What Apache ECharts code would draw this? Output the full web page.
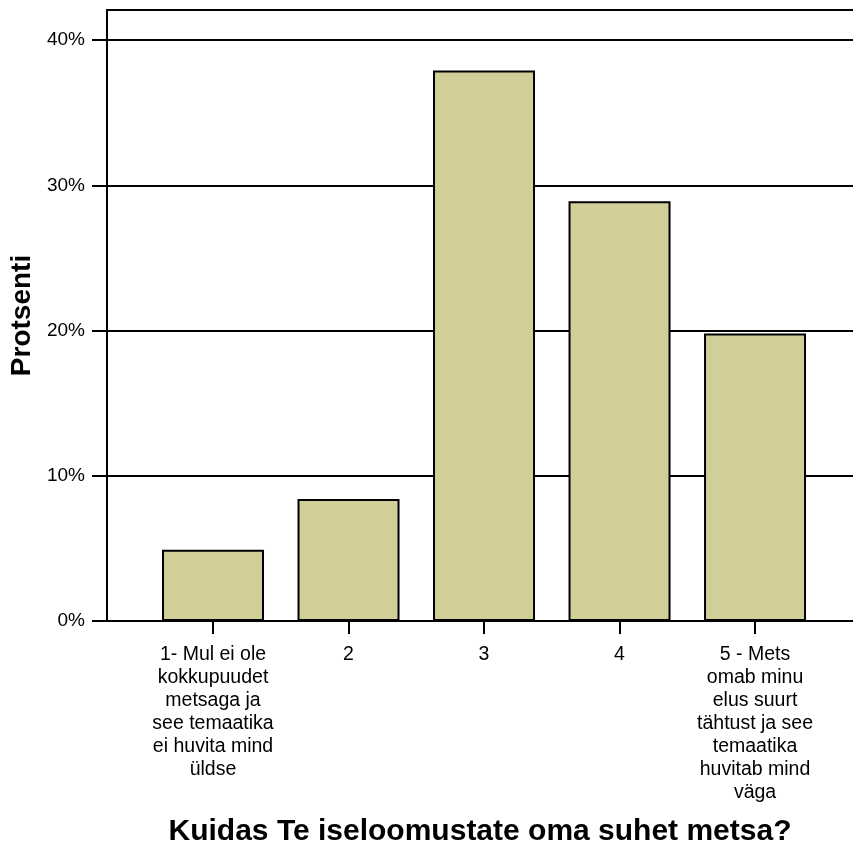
<!DOCTYPE html>
<html>
<head>
<meta charset="utf-8">
<script src="https://cdn.jsdelivr.net/npm/echarts@6/dist/echarts.min.js"></script>
<style>
html,body{margin:0;padding:0;background:#fff;}
#chart{width:853px;height:848px;}
</style>
</head>
<body>
<div id="chart"></div>
<script>
const categories = [
  "1- Mul ei ole\nkokkupuudet\nmetsaga ja\nsee temaatika\nei huvita mind\nüldse",
  "2",
  "3",
  "4",
  "5 - Mets\nomab minu\nelus suurt\ntähtust ja see\ntemaatika\nhuvitab mind\nväga"
];
const positions = [1, 2, 3, 4, 5];
const percentValues = [4.9, 8.4, 37.9, 28.9, 19.8];
const yTickValues = [0, 10, 20, 30, 40];
const xTitle = "Kuidas Te iseloomustate oma suhet metsa?";
const yTitle = "Protsenti";

const FONT = '"Liberation Sans", Arial, Helvetica, sans-serif';
const chart = echarts.init(document.getElementById('chart'), null, {renderer: 'canvas'});
const xMin = 0.2177, xMax = 5.723;
chart.setOption({
  animation: false,
  backgroundColor: '#ffffff',
  grid: {left: 107, right: 0, top: 10, bottom: 227, containLabel: false, outerBoundsMode: 'none'},
  xAxis: [{
    type: 'value',
    position: 'bottom',
    min: xMin, max: xMax,
    splitLine: {show: false},
    axisLine: {show: true, onZero: false, lineStyle: {color: '#000', width: 2}},
    axisTick: {show: true, customValues: positions, length: 13, lineStyle: {color: '#000', width: 2}},
    axisLabel: {
      show: true, customValues: positions, margin: 22,
      color: '#000', fontFamily: FONT, fontSize: 19.5, lineHeight: 23, align: 'center',
      formatter: function (v) { return categories[Math.round(v) - 1]; }
    },
    name: xTitle,
    nameLocation: 'middle',
    nameGap: 196,
    nameTextStyle: {color: '#000', fontFamily: FONT, fontSize: 30, fontWeight: 'bold'}
  }, {
    type: 'value',
    position: 'top',
    min: xMin, max: xMax,
    splitLine: {show: false},
    axisLine: {show: true, onZero: false, lineStyle: {color: '#000', width: 2}},
    axisTick: {show: false},
    axisLabel: {show: false}
  }],
  yAxis: {
    type: 'value',
    min: 0, max: 42.07, interval: 10,
    axisLine: {show: true, lineStyle: {color: '#000', width: 2}},
    axisTick: {show: true, customValues: yTickValues, length: 15, lineStyle: {color: '#000', width: 2}},
    splitLine: {show: true, lineStyle: {color: '#000', width: 2}},
    axisLabel: {
      customValues: yTickValues, margin: 22, color: '#000', fontFamily: FONT, fontSize: 19,
      formatter: '{value}%'
    },
    name: yTitle,
    nameLocation: 'middle',
    nameRotate: 90,
    nameGap: 70,
    nameTextStyle: {color: '#000', fontFamily: FONT, fontSize: 28, fontWeight: 'bold'}
  },
  series: [{
    type: 'bar',
    xAxisIndex: 0,
    barWidth: 102,
    data: positions.map((p, i) => [p, percentValues[i]]),
    itemStyle: {color: '#d2ce98', borderColor: '#000', borderWidth: 2}
  }]
});
</script>
</body>
</html>
